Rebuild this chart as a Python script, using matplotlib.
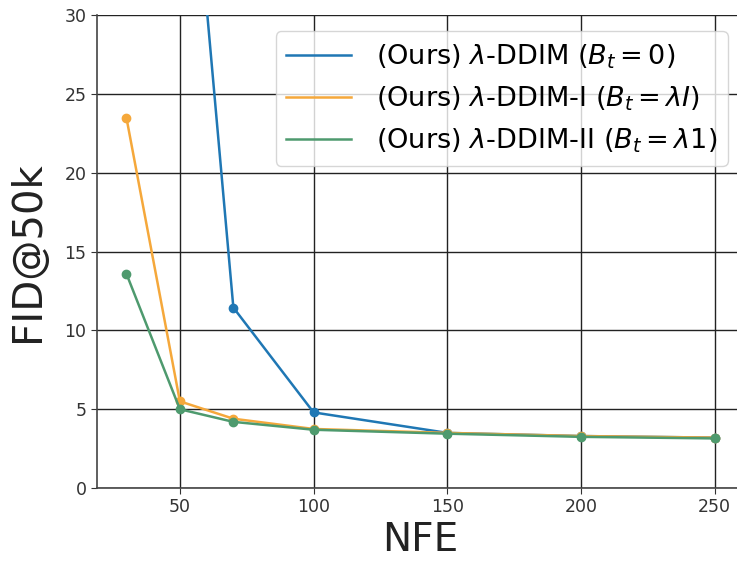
import matplotlib
matplotlib.use("Agg")
import matplotlib.pyplot as plt
import numpy as np

# NFE values per method
nfe_ddim = [50, 70, 100, 150, 200, 250]
fid_ddim = [49.6, 11.45, 4.8, 3.5, 3.3, 3.2]

nfe_ddim1 = [30, 50, 70, 100, 150, 200, 250]
fid_ddim1 = [23.5, 5.5, 4.4, 3.75, 3.5, 3.3, 3.2]

nfe_ddim2 = [30, 50, 70, 100, 150, 200, 250]
fid_ddim2 = [13.6, 5.0, 4.2, 3.7, 3.45, 3.25, 3.15]

labels = [r'(Ours) $\lambda$-DDIM ($B_t=0$)',
          r'(Ours) $\lambda$-DDIM-I ($B_t=\lambda I$)',
          r'(Ours) $\lambda$-DDIM-II ($B_t=\lambda 1$)']
colors = ['#1f77b4', '#f5a83b', '#4e9a6e']

fig = plt.figure(figsize=(7.37, 5.61), dpi=100)
ax = fig.add_axes([0.1316, 0.130, 0.878, 0.843])

series = [(nfe_ddim, fid_ddim), (nfe_ddim1, fid_ddim1), (nfe_ddim2, fid_ddim2)]
for (x, y), c, lab in zip(series, colors, labels):
    ax.plot(x, y, color=c, lw=1.8, label=lab)
    ax.plot(x, y, 'o', color=c, ms=6)

ax.set_xlim(19, 261)
ax.set_ylim(0, 30)
ax.set_xticks([50, 100, 150, 200, 250])
ax.set_yticks([0, 5, 10, 15, 20, 25, 30])
ax.grid(True, color='#222222', lw=1)
ax.set_axisbelow(True)

for s in ['top', 'right']:
    ax.spines[s].set_visible(False)
for s in ['left', 'bottom']:
    ax.spines[s].set_color('#444444')
    ax.spines[s].set_linewidth(1.2)

ax.tick_params(labelsize=12.5, colors='#333333', length=4)
ax.set_xlabel('NFE', fontsize=28, color='#222222', labelpad=3)
ax.set_ylabel('FID@50k', fontsize=29, color='#222222', labelpad=12)

ax.legend(loc='upper right', fontsize=19.5, framealpha=0.8,
          handlelength=2.4, handletextpad=0.9, borderaxespad=0.6,
          labelspacing=0.5)

fig.savefig('out.png', dpi=100)
